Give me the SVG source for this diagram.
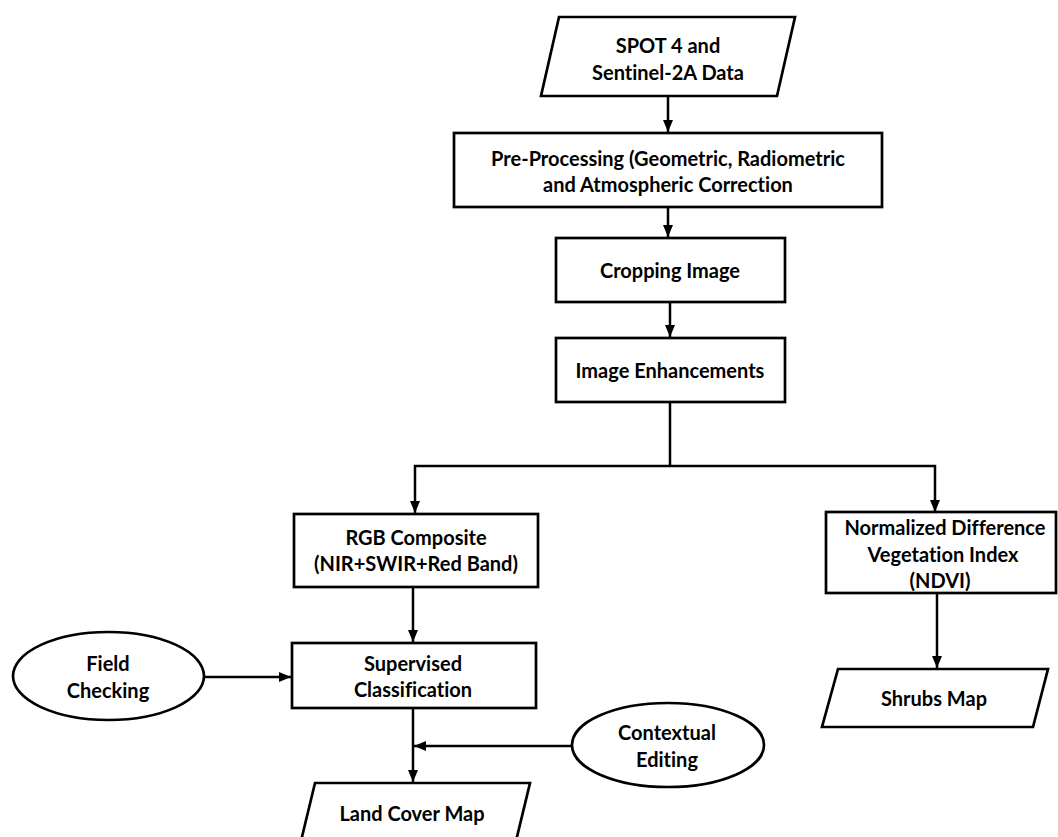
<svg xmlns="http://www.w3.org/2000/svg" width="1058" height="837" viewBox="0 0 1058 837">
<defs>
<marker id="ah" markerUnits="userSpaceOnUse" markerWidth="12" markerHeight="12" viewBox="0 0 12 12" refX="12" refY="6" orient="auto">
<path d="M0,1 L12,6 L0,11 Z" fill="#000"/>
</marker>
</defs>
<style>
.shape{fill:#fff;stroke:#000;stroke-width:2.7}
.edge{fill:none;stroke:#000;stroke-width:2.5}
.arr{marker-end:url(#ah)}
text{font-family:Lato,"Open Sans","Liberation Sans",sans-serif;font-weight:bold;font-size:20px;fill:#000;text-anchor:middle;dominant-baseline:central;font-variant-ligatures:none;font-feature-settings:"liga" 0}
</style>
<rect width="1058" height="837" fill="#fff"/>
<g id="connectors">
<line class="edge arr" x1="668" y1="96" x2="668" y2="132"/>
<line class="edge arr" x1="668" y1="207" x2="668" y2="237"/>
<line class="edge arr" x1="670" y1="302" x2="670" y2="337"/>
<polyline class="edge" points="670,402 670,466"/>
<polyline class="edge arr" points="670,466 415,466 415,513"/>
<polyline class="edge arr" points="670,466 935,466 935,512"/>
<line class="edge arr" x1="413" y1="587" x2="413" y2="642"/>
<line class="edge arr" x1="204" y1="677" x2="291" y2="677"/>
<line class="edge arr" x1="413" y1="708" x2="413" y2="782"/>
<line class="edge arr" x1="571" y1="746" x2="414" y2="746"/>
<line class="edge arr" x1="937" y1="593" x2="937" y2="668"/>
</g>
<g id="spot-data">
<polygon class="shape" points="559,17 795,17 777,96 541,96"/>
<text x="668" y="45">SPOT 4 and</text>
<text x="668" y="72">Sentinel-2A Data</text>
</g>
<g id="pre-processing">
<rect class="shape" x="454" y="133" width="428" height="74"/>
<text x="668" y="158">Pre-Processing (Geometric, Radiometric</text>
<text x="668" y="184">and Atmospheric Correction</text>
</g>
<g id="cropping">
<rect class="shape" x="556" y="238" width="229" height="64"/>
<text x="670" y="270">Cropping Image</text>
</g>
<g id="enhancements">
<rect class="shape" x="556" y="338" width="229" height="64"/>
<text x="670" y="370">Image Enhancements</text>
</g>
<g id="rgb-composite">
<rect class="shape" x="294" y="514" width="244" height="73"/>
<text x="416" y="537">RGB Composite</text>
<text x="416" y="563">(NIR+SWIR+Red Band)</text>
</g>
<g id="ndvi">
<rect class="shape" x="826" y="512" width="230" height="81"/>
<text x="945" y="527">Normalized Difference</text>
<text x="943" y="554">Vegetation Index</text>
<text x="940" y="580">(NDVI)</text>
</g>
<g id="shrubs-map">
<polygon class="shape" points="838,669 1048,669 1033,727 822,727"/>
<text x="934" y="698">Shrubs Map</text>
</g>
<g id="field-checking">
<ellipse class="shape" cx="108.5" cy="676" rx="95.5" ry="44"/>
<text x="108" y="663">Field</text>
<text x="108" y="690">Checking</text>
</g>
<g id="supervised">
<rect class="shape" x="292" y="643" width="244" height="65"/>
<text x="413" y="663">Supervised</text>
<text x="413" y="689">Classification</text>
</g>
<g id="contextual-editing">
<ellipse class="shape" cx="668" cy="745" rx="96" ry="42"/>
<text x="667" y="732">Contextual</text>
<text x="667" y="759">Editing</text>
</g>
<g id="land-cover-map">
<polygon class="shape" points="315,783 530,783 516,841 301,841"/>
<text x="412" y="813">Land Cover Map</text>
</g>
</svg>
